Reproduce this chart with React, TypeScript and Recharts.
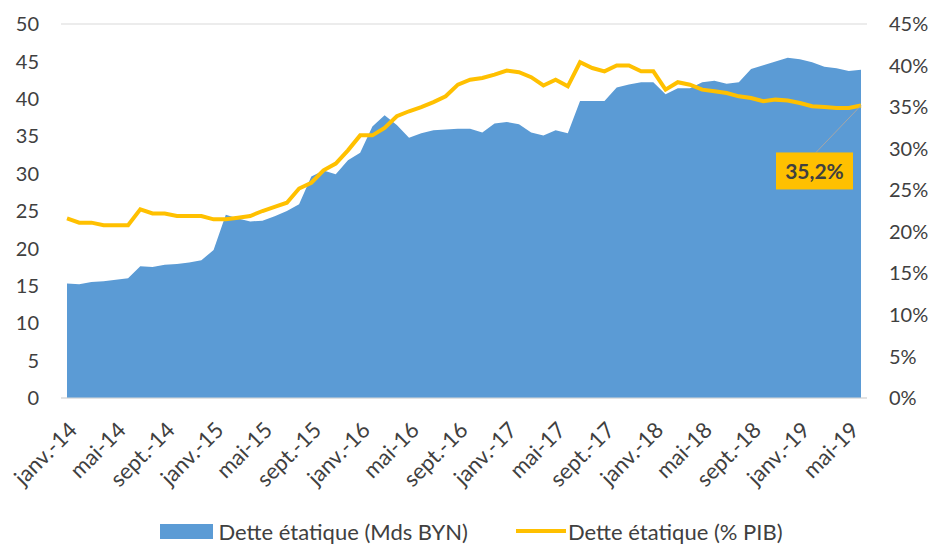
import React from "react";
import {
  ComposedChart,
  Area,
  Line,
  XAxis,
  YAxis,
  CartesianGrid,
  Legend,
  LabelList,
} from "recharts";

const FONT = "Lato, 'Open Sans', sans-serif";
const INK = "#404040";
const GRID = "#d9d9d9";
const BLUE = "#5B9BD5";
const GOLD = "#FFC000";

const MONTHS = ["janv.", "févr.", "mars", "avr.", "mai", "juin", "juil.", "août", "sept.", "oct.", "nov.", "déc."];
const YEARS = ["14", "15", "16", "17", "18", "19"];

// Mds BYN, janv.-14 .. juin-19
const debtBn = [
  15.3, 15.2, 15.5, 15.6, 15.8, 16.0, 17.6, 17.5, 17.8, 17.9, 18.1, 18.4,
  19.8, 24.5, 24.0, 23.6, 23.7, 24.3, 25.0, 25.9, 29.6, 30.4, 29.9, 31.8,
  32.8, 36.3, 37.8, 36.5, 34.8, 35.4, 35.8, 35.9, 36.0, 36.0, 35.5, 36.7,
  36.9, 36.6, 35.5, 35.1, 35.8, 35.4, 39.7, 39.7, 39.7, 41.5, 41.9, 42.2,
  42.2, 40.6, 41.4, 41.4, 42.2, 42.4, 42.0, 42.2, 44.0, 44.5, 45.0, 45.5,
  45.3, 44.9, 44.3, 44.1, 43.7, 43.9,
];

// % PIB
const debtPct = [
  21.6, 21.1, 21.1, 20.8, 20.8, 20.8, 22.7, 22.2, 22.2, 21.9, 21.9, 21.9,
  21.5, 21.5, 21.7, 21.9, 22.5, 23.0, 23.5, 25.2, 25.9, 27.4, 28.2, 29.8,
  31.6, 31.6, 32.5, 33.9, 34.5, 35.0, 35.6, 36.3, 37.7, 38.3, 38.5, 38.9,
  39.4, 39.2, 38.6, 37.6, 38.3, 37.5, 40.4, 39.7, 39.3, 40.0, 40.0, 39.3,
  39.3, 37.1, 38.0, 37.7, 37.1, 36.9, 36.7, 36.3, 36.1, 35.7, 35.9, 35.8,
  35.5, 35.1, 35.0, 34.9, 34.9, 35.2,
];

const leftTicks = [0, 5, 10, 15, 20, 25, 30, 35, 40, 45, 50];
const rightTicks = [0, 5, 10, 15, 20, 25, 30, 35, 40, 45];

const months: string[] = [];
YEARS.forEach((yr) => MONTHS.forEach((m) => months.push(`${m}-${yr}`)));

const data = debtBn.map((v, i) => ({ month: months[i], bn: v, pct: debtPct[i] }));
const lastIdx = data.length - 1;

function XTick({ x, y, payload }: any) {
  return (
    <g transform={`translate(${x + 6},${y + 26})`}>
      <text textAnchor="end" dy="0.35em" transform="rotate(-45)" fill={INK} fontSize={22} fontFamily={FONT}>
        {payload.value}
      </text>
    </g>
  );
}

function LastLabel(props: any) {
  const { x, y, index } = props;
  if (index !== lastIdx) return null;
  const bx = x - 85;
  const by = y + 47;
  return (
    <g>
      <line x1={x} y1={y} x2={x - 45} y2={by} stroke="#a6a6a6" strokeWidth={1} />
      <rect x={bx} y={by} width={77} height={37} fill={GOLD} />
      <text x={bx + 38.5} y={by + 18.5} dy="0.36em" textAnchor="middle" fill={INK} fontSize={21} fontWeight="bold" fontFamily={FONT}>
        35,2%
      </text>
    </g>
  );
}

function LegendBox() {
  return (
    <div style={{ display: "flex", alignItems: "center", justifyContent: "center", fontFamily: FONT, fontSize: 22, color: INK, height: 26, paddingLeft: 10 }}>
      <span style={{ display: "inline-block", width: 53, height: 15, background: BLUE, marginRight: 5 }} />
      <span style={{ marginRight: 48 }}>Dette étatique (Mds BYN)</span>
      <span style={{ display: "inline-block", width: 50, height: 4, background: GOLD, marginRight: 2 }} />
      <span>Dette étatique (% PIB)</span>
    </div>
  );
}

export default function App() {
  return (
    <div style={{ position: "absolute", left: 0, top: 0, width: 933, height: 544, background: "#fff" }}>
      <ComposedChart width={933} height={544} data={data} margin={{ top: 24, right: 0, left: 0, bottom: 0 }}>
        <CartesianGrid stroke={GRID} vertical={false} />
        <XAxis
          dataKey="month"
          interval={3}
          tick={<XTick />}
          tickLine={false}
          tickSize={0}
          axisLine={{ stroke: GRID }}
          padding={{ left: 6, right: 6 }}
          height={120}
        />
        <YAxis
          yAxisId="l"
          domain={[0, 50]}
          ticks={leftTicks}
          width={61}
          tickLine={false}
          tickSize={0}
          tickMargin={22}
          axisLine={false}
          tick={{ fill: INK, fontSize: 20, fontFamily: FONT }}
        />
        <YAxis
          yAxisId="r"
          orientation="right"
          domain={[0, 45]}
          ticks={rightTicks}
          width={66}
          tickLine={false}
          tickSize={0}
          tickMargin={22}
          axisLine={false}
          tickFormatter={(v) => `${v}%`}
          tick={{ fill: INK, fontSize: 20, fontFamily: FONT, textAnchor: "start" }}
        />
        <Area
          yAxisId="l"
          type="linear"
          dataKey="bn"
          fill={BLUE}
          fillOpacity={1}
          stroke="none"
          isAnimationActive={false}
        />
        <Line
          yAxisId="r"
          type="linear"
          dataKey="pct"
          stroke={GOLD}
          strokeWidth={4}
          dot={false}
          isAnimationActive={false}
        >
          <LabelList dataKey="pct" content={<LastLabel />} />
        </Line>
        <Legend verticalAlign="bottom" height={26} content={<LegendBox />} />
      </ComposedChart>
    </div>
  );
}
